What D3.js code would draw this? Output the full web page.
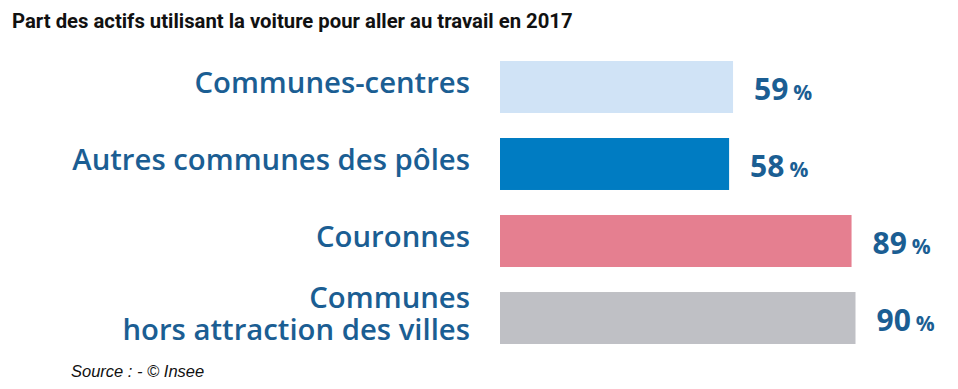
<!DOCTYPE html>
<html><head><meta charset="utf-8">
<script src="https://cdn.jsdelivr.net/npm/d3@7"></script>
<style>body{margin:0;background:#fff;}svg{display:block;}</style>
</head><body>
<script>
const title = "Part des actifs utilisant la voiture pour aller au travail en 2017";
const source = "Source : - © Insee";
const categories = ["Communes-centres", "Autres communes des pôles", "Couronnes", "Communes\nhors attraction des villes"];
const values = [59, 58, 89, 90];
const colors = ["#d0e3f6", "#007cc2", "#e57f90", "#bfc0c5"];

const W = 958, H = 389;
const svg = d3.select("body").append("svg").attr("width", W).attr("height", H);

const x = d3.scaleLinear().domain([0, 100]).range([500, 895]);
const y = d3.scaleBand().domain(categories).range([61, 344]).paddingInner(0.325).paddingOuter(0);

const textColor = "#1b5e93";

svg.append("text").attr("x", 12).attr("y", 28)
  .attr("font-family", "Roboto").attr("font-weight", 700).attr("font-size", 20.3)
  .attr("fill", "#111").text(title);

const data = categories.map((c, i) => ({c, v: values[i], col: colors[i]}));

svg.selectAll("rect.bar").data(data).join("rect").attr("class", "bar")
  .attr("x", x(0)).attr("y", d => y(d.c))
  .attr("width", d => x(d.v) - x(0)).attr("height", y.bandwidth())
  .attr("fill", d => d.col);

const lab = svg.selectAll("text.cat").data(data).join("text").attr("class", "cat")
  .attr("text-anchor", "end")
  .attr("font-family", "Open Sans").attr("font-weight", 600).attr("font-size", 29.3)
  .attr("fill", textColor);
lab.each(function(d) {
  const lines = d.c.split("\n");
  const cy = y(d.c) + y.bandwidth() / 2;
  const t = d3.select(this);
  lines.forEach((l, j) => {
    t.append("tspan").attr("x", 470)
      .attr("y", cy + 6 + (j - (lines.length - 1) / 2) * 32).text(l);
  });
});

const vl = svg.selectAll("text.val").data(data).join("text").attr("class", "val")
  .attr("x", d => x(d.v) + 21)
  .attr("y", d => y(d.c) + y.bandwidth() / 2 + 13)
  .attr("font-family", "Open Sans").attr("font-weight", 700)
  .attr("fill", textColor);
vl.append("tspan").attr("font-size", 30).text(d => d.v);
vl.append("tspan").attr("font-size", 21).attr("dx", 5).text("%");

svg.append("text").attr("x", 71).attr("y", 377)
  .attr("font-family", "Liberation Sans").attr("font-style", "italic").attr("font-size", 16.5)
  .attr("fill", "#111").text(source);
</script>
</body></html>
